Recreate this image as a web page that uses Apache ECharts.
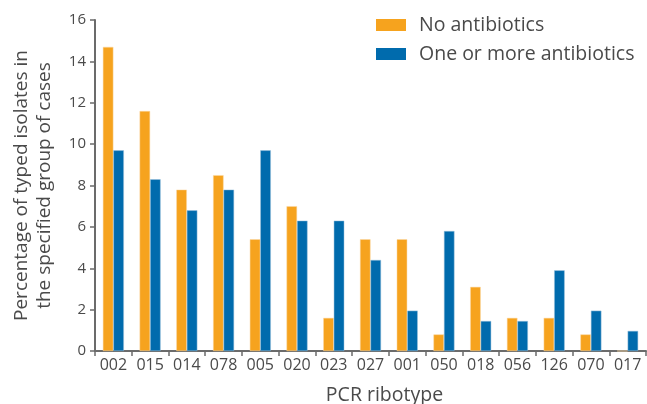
<!DOCTYPE html>
<html>
<head>
<meta charset="utf-8">
<script src="https://cdn.jsdelivr.net/npm/echarts@6/dist/echarts.min.js"></script>
<style>
  html, body { margin: 0; padding: 0; background: #fff; }
  #chart { width: 647px; height: 404px; }
</style>
</head>
<body>
<div id="chart"></div>
<script>
// PCR ribotypes on the x axis
var ribotypes = ['002', '015', '014', '078', '005', '020', '023', '027', '001', '050', '018', '056', '126', '070', '017'];

// percentage of typed isolates
var noAntibiotics = [14.7, 11.6, 7.8, 8.5, 5.4, 7.0, 1.6, 5.4, 5.4, 0.8, 3.1, 1.6, 1.6, 0.8, 0];
var oneOrMore = [9.7, 8.3, 6.8, 7.8, 9.7, 6.3, 6.3, 4.4, 1.95, 5.8, 1.45, 1.45, 3.9, 1.95, 0.97];

var seriesNames = ['No antibiotics', 'One or more antibiotics'];

var font = 'Open Sans';
var textColor = '#4a4a4a';
var axisColor = '#6b6b6b';

var chart = echarts.init(document.getElementById('chart'));

var option = {
    animation: false,
    legend: {
        orient: 'vertical',
        left: 371,
        top: 10,
        icon: 'rect',
        itemWidth: 30,
        itemHeight: 12,
        itemGap: 9,
        itemStyle: { borderWidth: 0 },
        textStyle: { fontFamily: font, fontSize: 19.5, color: textColor, padding: [0, 0, 0, 8] },
        data: seriesNames
    },
    grid: {
        left: 95,
        right: 1,
        top: 20,
        bottom: 53,
        containLabel: false,
        outerBoundsMode: 'none'
    },
    xAxis: {
        type: 'category',
        data: ribotypes,
        name: 'PCR ribotype',
        nameLocation: 'middle',
        nameGap: 34,
        nameTextStyle: { fontFamily: font, fontSize: 19.5, color: textColor, padding: [0, 0, 0, 28] },
        axisLine: { lineStyle: { color: axisColor, width: 2 } },
        axisTick: { show: true, length: 5, alignWithLabel: false, lineStyle: { color: axisColor, width: 1.5 } },
        axisLabel: { fontFamily: font, fontSize: 16, color: textColor, margin: 6, interval: 0 }
    },
    yAxis: {
        type: 'value',
        min: 0,
        max: 16,
        interval: 2,
        name: 'Percentage of typed isolates in\nthe specified group of cases',
        nameLocation: 'middle',
        nameGap: 39,
        nameTextStyle: { fontFamily: font, fontSize: 19, color: textColor, lineHeight: 23 },
        axisLine: { show: true, lineStyle: { color: axisColor, width: 2 } },
        axisTick: { show: true, length: 5, lineStyle: { color: axisColor, width: 1.5 } },
        axisLabel: { fontFamily: font, fontSize: 15, color: textColor, margin: 9 },
        splitLine: { show: false }
    },
    series: [
        {
            name: seriesNames[0],
            type: 'bar',
            data: noAntibiotics,
            barWidth: 10.5,
            barGap: '0%',
            itemStyle: { color: '#F6A31E', borderColor: '#FAD9A6', borderWidth: 0.5 }
        },
        {
            name: seriesNames[1],
            type: 'bar',
            data: oneOrMore,
            barWidth: 10.5,
            barGap: '0%',
            itemStyle: { color: '#006BAD', borderColor: '#9CC3DD', borderWidth: 0.5 }
        }
    ]
};

chart.setOption(option);
</script>
</body>
</html>
